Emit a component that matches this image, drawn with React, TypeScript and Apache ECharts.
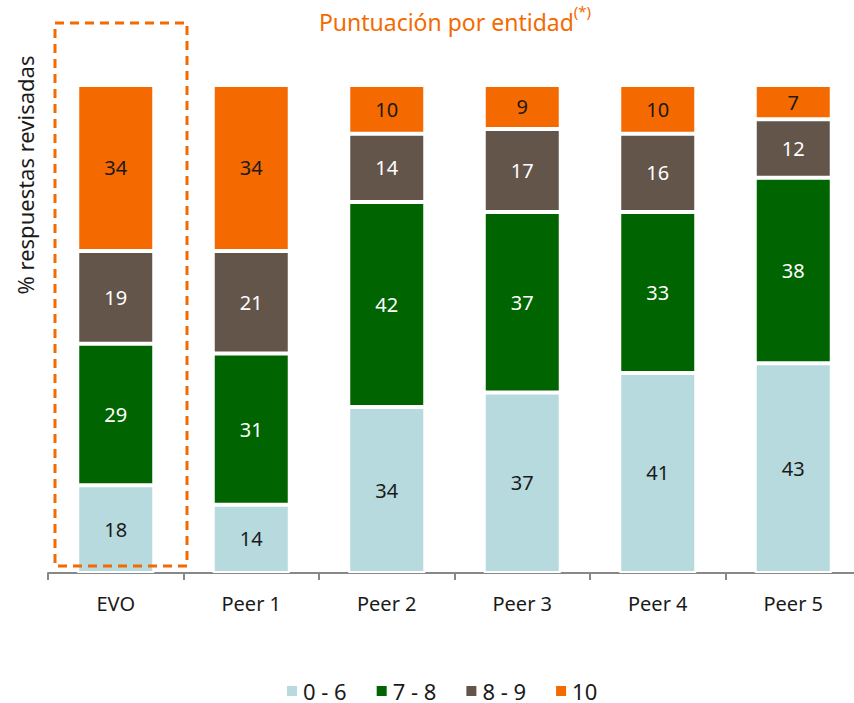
import React, { useEffect, useRef } from "react";
import * as echarts from "echarts";

const categories = ["EVO", "Peer 1", "Peer 2", "Peer 3", "Peer 4", "Peer 5"];
const seriesNames = ["0 - 6", "7 - 8", "8 - 9", "10"];
const s06 = [18, 14, 34, 37, 41, 43];
const s78 = [29, 31, 42, 37, 33, 38];
const s89 = [19, 21, 14, 17, 16, 12];
const s10 = [34, 34, 10, 9, 10, 7];
const colors = ["#b6dade", "#006400", "#63554a", "#f46900"];
const labelColors = ["#1a1a1a", "#ffffff", "#ffffff", "#1a1a1a"];

const FONT = "Noto Sans";

export default function App() {
  const ref = useRef<HTMLDivElement>(null);
  useEffect(() => {
    if (!ref.current) return;
    const chart = echarts.init(ref.current, null, { renderer: "svg" });
    const data = [s06, s78, s89, s10];
    chart.setOption({
      animation: false,
      title: {
        text: "{a|Puntuación por entidad}{b|(*)}",
        left: 450,
        textAlign: "center",
        top: -2,
        textStyle: {
          fontWeight: "normal",
          rich: {
            a: { fontFamily: FONT, fontSize: 23, fontWeight: "normal", color: "#f46900", verticalAlign: "bottom", lineHeight: 30 },
            b: { fontFamily: FONT, fontSize: 15, fontWeight: "normal", color: "#f46900", verticalAlign: "top", lineHeight: 30, padding: [0, 0, 12, 0] },
          },
        },
      },
      grid: { left: 48, width: 813, top: 85, height: 488, containLabel: false, outerBoundsMode: "none" },
      legend: {
        left: 280,
        top: 675,
        padding: 5,
        icon: "rect",
        itemWidth: 12,
        itemHeight: 12,
        itemGap: 28,
        textStyle: { fontFamily: FONT, fontSize: 22, lineHeight: 22, color: "#1a1a1a" },
        data: seriesNames,
      },
      xAxis: {
        type: "category",
        data: categories,
        axisLine: { lineStyle: { color: "#888888", width: 2 } },
        axisTick: { show: true, length: 7, lineStyle: { color: "#888888", width: 2 } },
        axisLabel: { fontFamily: FONT, fontSize: 20, color: "#1a1a1a", margin: 20 },
      },
      yAxis: {
        type: "value",
        min: 0,
        max: 100,
        show: false,
        splitLine: { show: false },
      },
      series: data.map((d, i) => ({
        name: seriesNames[i],
        type: "bar",
        stack: "total",
        data: d,
        barWidth: 77,
        itemStyle: { color: colors[i], borderColor: "#ffffff", borderWidth: 2 },
        label: {
          show: true,
          position: "inside",
          fontFamily: FONT,
          fontSize: 20,
          color: labelColors[i],
        },
      })),
      graphic: [
        {
          type: "text",
          x: 25,
          y: 175,
          rotation: Math.PI / 2,
          style: {
            text: "% respuestas revisadas",
            fontFamily: FONT,
            fontSize: 22,
            fill: "#1a1a1a",
            textAlign: "center",
            textVerticalAlign: "middle",
          },
        },
        {
          type: "rect",
          shape: { x: 55, y: 23, width: 132, height: 543 },
          style: { fill: "none", stroke: "#f46900", lineWidth: 3, lineDash: [9, 6] },
          z: 10,
        },
      ],
    });
    return () => chart.dispose();
  }, []);
  return (
    <div
      ref={ref}
      style={{ position: "absolute", left: 0, top: 0, width: 854, height: 703, overflow: "hidden" }}
    />
  );
}
